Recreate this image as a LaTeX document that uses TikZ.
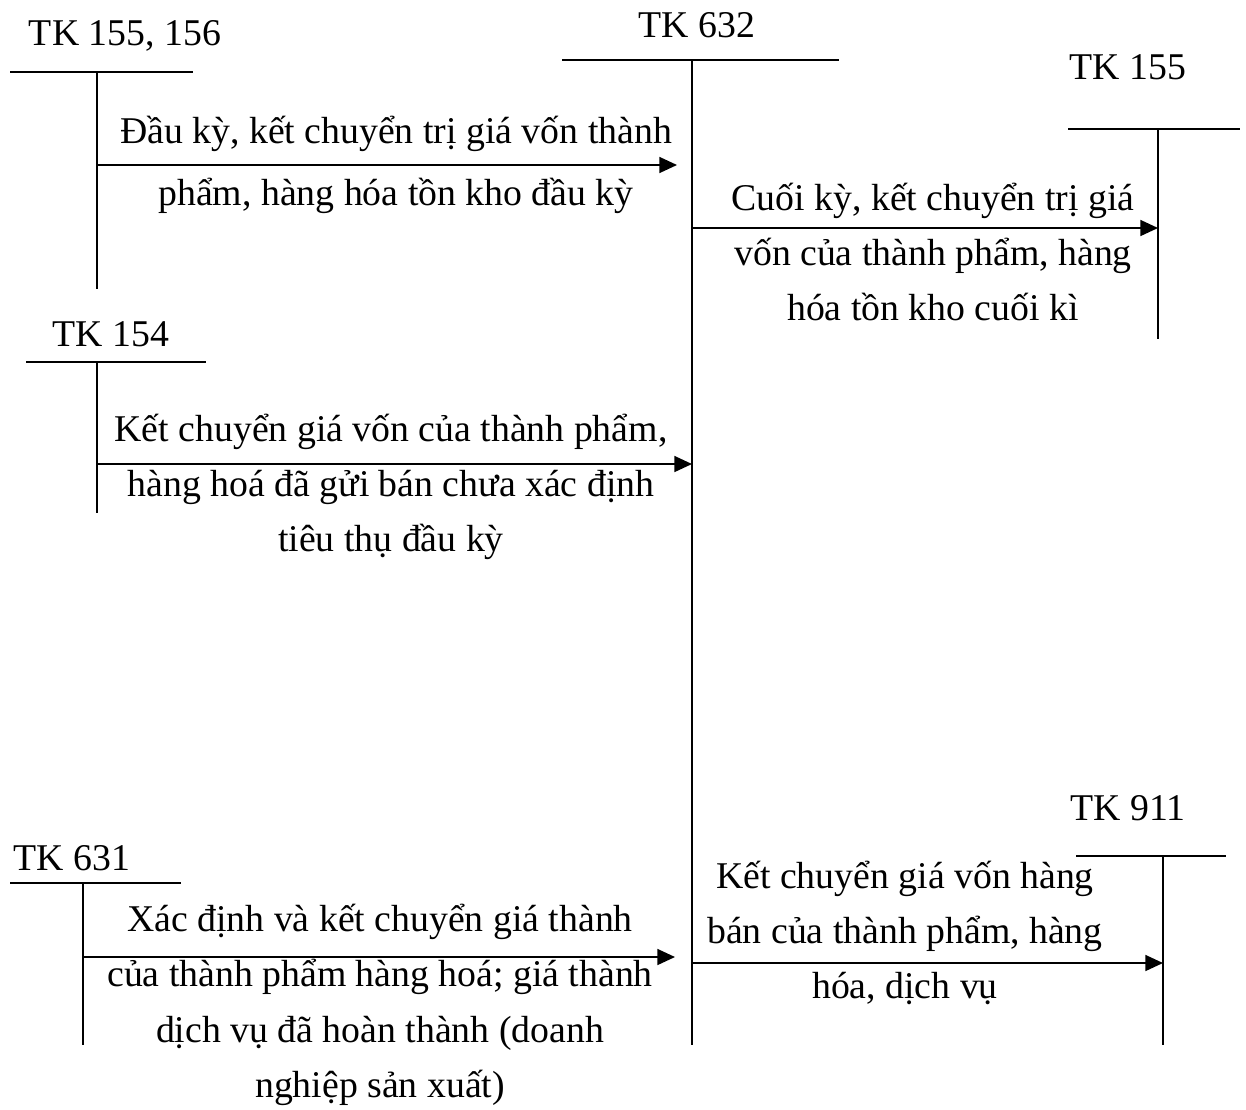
\documentclass[tikz,border=0pt]{standalone}
\usepackage{fontspec}
\setmainfont{Liberation Serif}
\usetikzlibrary{arrows.meta}

\begin{document}
\begin{tikzpicture}[x=0.02cm,y=-0.02cm,line width=1.1pt,
  acct/.style={font=\fontsize{21.5}{25}\selectfont,inner sep=0pt},
  note/.style={align=center,font=\fontsize{21.5}{31.5}\selectfont,inner sep=0pt},
  flow/.style={-{Triangle[length=10pt,width=9pt]}}]
\useasboundingbox (0,0) rectangle (1246,1109);
% T-accounts: title, top bar, stem
\node[acct] (t155a) at (125,36) {TK 155, 156};
\draw (10,72) -- (193,72); \draw (97,72) -- (97,289);
\node[acct] (t632) at (697,25) {TK 632};
\draw (562,60) -- (839,60); \draw (692,60) -- (692,1045);
\node[acct] (t155b) at (1128,67) {TK 155};
\draw (1068,129) -- (1240,129); \draw (1158,129) -- (1158,339);
\node[acct] (t154) at (111,334) {TK 154};
\draw (26,362) -- (206,362); \draw (97,362) -- (97,513);
\node[acct] (t631) at (72,858) {TK 631};
\draw (10,883) -- (181,883); \draw (83,883) -- (83,1045);
\node[acct] (t911) at (1128,808) {TK 911};
\draw (1076,856) -- (1226,856); \draw (1163,856) -- (1163,1045);
% entries
\coordinate (a1) at (97,165);  \coordinate (b1) at (677,165);
\coordinate (a2) at (692,228); \coordinate (b2) at (1158,228);
\coordinate (a3) at (97,464);  \coordinate (b3) at (692,464);
\coordinate (a4) at (83,957);  \coordinate (b4) at (675,957);
\coordinate (a5) at (692,963); \coordinate (b5) at (1163,963);
\draw[flow] (a1) -- (b1);
\draw[flow] (a2) -- (b2);
\draw[flow] (a3) -- (b3);
\draw[flow] (a4) -- (b4);
\draw[flow] (a5) -- (b5);
\node[note] (n1) at (396,165) {Đầu kỳ, kết chuyển trị giá vốn thành\\[4pt]phẩm, hàng hóa tồn kho đầu kỳ};
\node[note] (n2) at (933,252) {Cuối kỳ, kết chuyển trị giá\\vốn của thành phẩm, hàng\\hóa tồn kho cuối kì};
\node[note] (n3) at (391,487) {Kết chuyển giá vốn của thành phẩm,\\hàng hoá đã gửi bán chưa xác định\\tiêu thụ đầu kỳ};
\node[note] (n4) at (380,1005) {Xác định và kết chuyển giá thành\\của thành phẩm hàng hoá; giá thành\\dịch vụ đã hoàn thành (doanh\\nghiệp sản xuất)};
\node[note] (n5) at (905,933) {Kết chuyển giá vốn hàng\\bán của thành phẩm, hàng\\hóa, dịch vụ};
\end{tikzpicture}
\end{document}
